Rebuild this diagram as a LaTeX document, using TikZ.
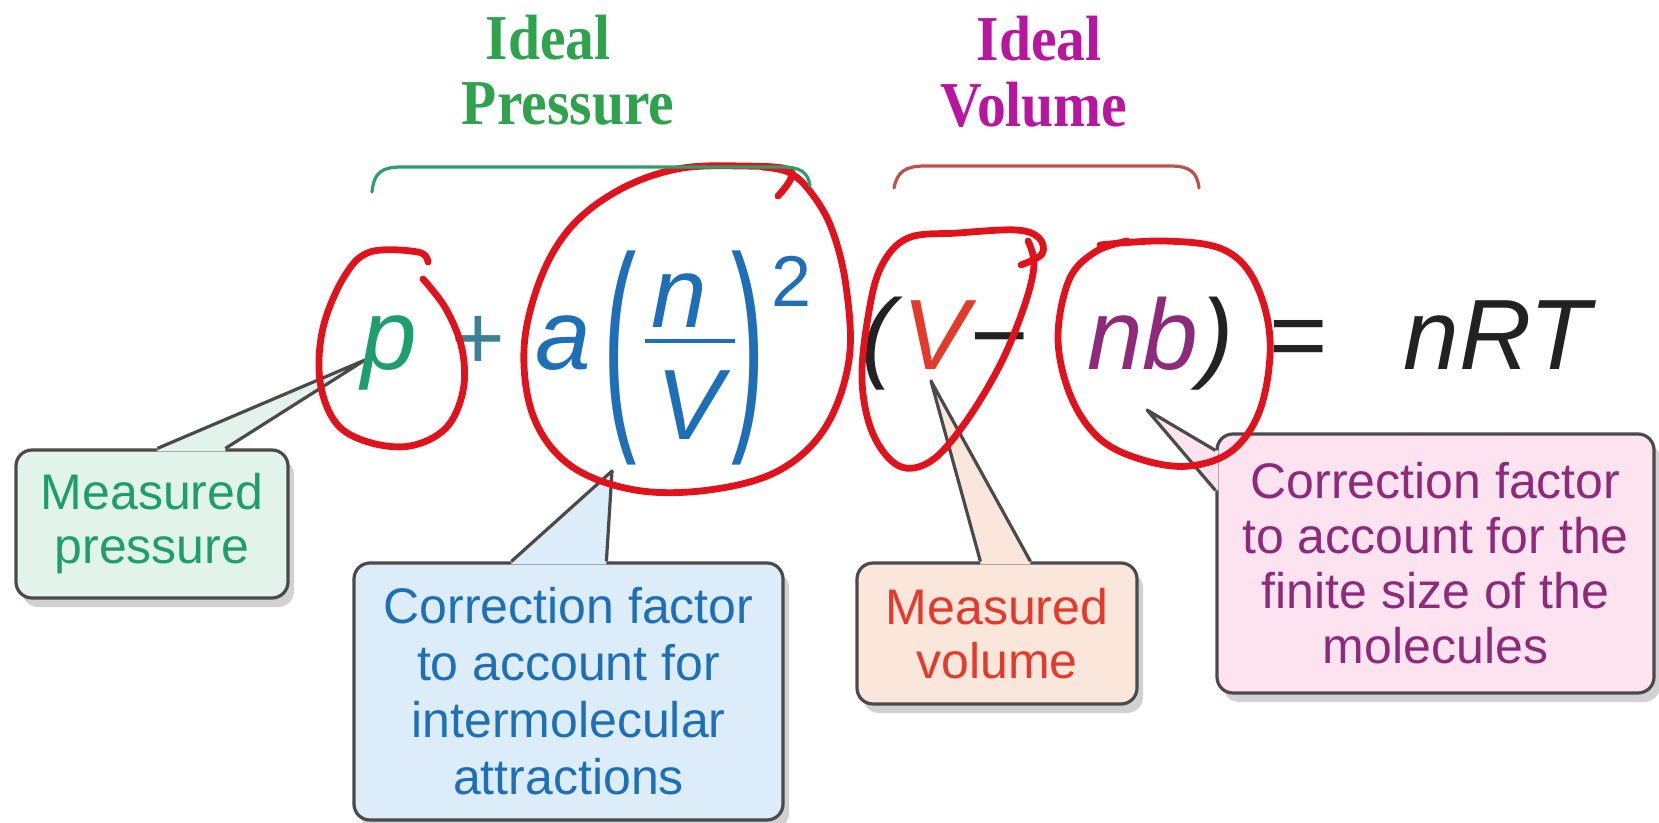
\documentclass[tikz,border=0pt]{standalone}
\usepackage{fontspec}
\setmainfont{Liberation Sans}
\newfontfamily\serifb{Liberation Serif}
\usetikzlibrary{calc}
\definecolor{cgreen}{HTML}{1E9E6E}
\definecolor{cblue}{HTML}{1F6FB6}
\definecolor{cred}{HTML}{E23B2E}
\definecolor{cpurp}{HTML}{8E2A7A}
\definecolor{ceq}{HTML}{222222}
\definecolor{cplus}{HTML}{3C8096}
\definecolor{ttlgreen}{HTML}{2FA24E}
\definecolor{ttlmag}{HTML}{B8169E}
\definecolor{circ}{HTML}{E0121C}
\definecolor{bgreen}{HTML}{E2F3EA}
\definecolor{bblue}{HTML}{DCEDF9}
\definecolor{bpeach}{HTML}{FBE6DC}
\definecolor{bpink}{HTML}{FCE3EF}
\definecolor{edge}{HTML}{4A4A4A}
\definecolor{arcg}{HTML}{2E9E6A}
\definecolor{arcr}{HTML}{C0504D}
\begin{document}
\begin{tikzpicture}[x=0.5pt,y=-0.5pt,
  eq/.style={inner sep=0pt, anchor=base, font=\fontsize{50}{60}\selectfont\itshape},
  ttl/.style={inner sep=0pt, anchor=base, font=\fontsize{32}{36}\selectfont\serifb\bfseries},
  callout/.style={draw=edge, line width=1.6pt, rounded corners=8pt, inner sep=0pt, align=center, font=\fontsize{25}{27}\selectfont},
  shade/.style={fill=black, opacity=0.18, rounded corners=8pt, inner sep=0pt},
  wedge/.style={draw=edge, line width=1.6pt, line join=round},
  ring/.style={draw=circ, line width=3.4pt, line cap=round, line join=round},
  bracearc/.style={line width=1.6pt, line cap=round}]
\useasboundingbox (0,0) rectangle (1659,823);

% ---------- shadows ----------
\node[shade, minimum width=136pt, minimum height=74pt] (mpS) at (158,533) {};
\node[shade, minimum width=214.5pt, minimum height=128.5pt] (caS) at (574.5,700.5) {};
\node[shade, minimum width=140pt, minimum height=70.5pt] (mvS) at (1003,642.5) {};
\node[shade, minimum width=218.5pt, minimum height=129.5pt] (cmS) at (1441.5,572.5) {};

% ---------- callout boxes ----------
\node[callout, fill=bgreen, text=cgreen, minimum width=136pt, minimum height=74pt] (mp) at (152,524) {Measured\\pressure};
\node[callout, fill=bblue, text=cblue, minimum width=214.5pt, minimum height=128.5pt, font=\fontsize{25}{28.5}\selectfont] (ca) at (568.5,691.5) {Correction factor\\to account for\\intermolecular\\attractions};
\node[callout, fill=bpeach, text=cred, minimum width=140pt, minimum height=70.5pt] (mv) at (997,633.5) {Measured\\volume};
\node[callout, fill=bpink, text=cpurp, minimum width=218.5pt, minimum height=129.5pt, font=\fontsize{25}{27.5}\selectfont] (cm) at (1435.5,563.5) {Correction factor\\to account for the\\finite size of the\\molecules};

% ---------- pointer tips and bases ----------
\coordinate (tp) at (365,360);
\coordinate (g1) at ($(mp.north west)+(143,0)$);
\coordinate (g2) at ($(mp.north west)+(211,0)$);
\coordinate (ta) at (612,471);
\coordinate (b1) at ($(ca.north west)+(159,0)$);
\coordinate (b2) at ($(ca.north west)+(254,0)$);
\coordinate (tv) at (931,381);
\coordinate (v1) at ($(mv.north west)+(125,0)$);
\coordinate (v2) at ($(mv.north west)+(175,0)$);
\coordinate (tn) at (1147,410);
\coordinate (n1) at ($(cm.north west)+(0,18)$);
\coordinate (n2) at ($(cm.north west)+(0,58)$);

\fill[bgreen] ($(g1)+(0,3)$) -- (g1) -- (tp) -- (g2) -- ($(g2)+(0,3)$) -- cycle;
\draw[wedge] (g1) -- (tp) -- (g2);
\fill[bblue] ($(b1)+(0,3)$) -- (b1) -- (ta) -- (b2) -- ($(b2)+(0,3)$) -- cycle;
\draw[wedge] (b1) -- (ta) -- (b2);
\fill[bpeach] ($(v1)+(0,3)$) -- (v1) -- (tv) -- (v2) -- ($(v2)+(0,3)$) -- cycle;
\draw[wedge] (v1) -- (tv) -- (v2);
\fill[bpink] ($(n1)+(3,0)$) -- (n1) -- (tn) -- (n2) -- ($(n2)+(3,0)$) -- cycle;
\draw[wedge] (n1) -- (tn) -- (n2);

% ---------- equation ----------
\node[eq, text=cgreen] (p) at (389,370) {p};
\node[eq, text=cplus, font=\fontsize{46}{60}\selectfont\upshape] (plus) at (478,370) {+};
\node[eq, text=cblue] (a) at (563,370) {a};
\node[eq, text=cblue, anchor=center, font=\fontsize{50}{60}\selectfont\upshape] (lp) at (620,358) {\scalebox{1}[2.3]{(}};
\node[eq, text=cblue] (fn) at (679,328) {n};
\draw[cblue, line width=2pt] (645,341) -- (735,341);
\node[eq, text=cblue] (fv) at (690,439) {V};
\node[eq, text=cblue, anchor=center, font=\fontsize{50}{60}\selectfont\upshape] (rp) at (748,358) {\scalebox{1}[2.3]{)}};
\node[eq, text=cblue, font=\fontsize{36}{40}\selectfont\upshape] (sq) at (792,307) {2};
\node[eq, text=ceq] (lp2) at (878,370) {(};
\node[eq, text=cred] (vv) at (936,370) {V};
\node[eq, text=ceq, font=\fontsize{50}{60}\selectfont\upshape] (minus) at (1000,370) {−};
\node[eq, text=cpurp] (nb) at (1143,370) {nb};
\node[eq, text=ceq] (rp2) at (1217,370) {)};
\node[eq, text=ceq, font=\fontsize{50}{60}\selectfont\upshape] (equal) at (1299,370) {=};
\node[eq, text=ceq] (nrt) at (1497,370) {nRT};

% ---------- hand-drawn red rings ----------
\draw[ring] plot[smooth, tension=0.6] coordinates {(428,262) (418,252) (370,252) (344,277) (323,328) (320,381) (336,423) (368,442) (410,446) (446,428) (463,391) (462,349) (446,309) (423,279)};
\draw[ring] plot[smooth, tension=0.6] coordinates {(778,196) (791,171) (741,166) (677,169) (619,190) (571,227) (540,280) (524,349) (534,418) (571,466) (635,490) (709,490) (778,471) (825,428) (849,360) (846,286) (831,227) (809,190) (788,172) (762,167)};
\draw[ring] plot[smooth, tension=0.6] coordinates {(1021,265) (1042,254) (1039,238) (1016,230) (958,233) (908,238) (881,267) (868,317) (862,381) (873,434) (899,466) (931,461) (965,423) (1000,365) (1024,307) (1034,265) (1028,241)};
\draw[ring] plot[smooth, tension=0.6] coordinates {(1100,245) (1164,241) (1222,249) (1254,280) (1270,339) (1261,407) (1233,450) (1190,466) (1143,460) (1100,439) (1071,397) (1058,339) (1069,280) (1095,252) (1127,241)};

% ---------- brace arcs ----------
\draw[bracearc, draw=arcg] (372,192) .. controls (374,172) and (382,167) .. (402,167) -- (782,167) .. controls (800,167) and (808,172) .. (810,186);
\draw[bracearc, draw=arcr] (894,188) .. controls (897,172) and (905,166) .. (925,166) -- (1170,166) .. controls (1190,166) and (1197,172) .. (1199,188);

% ---------- titles ----------
\node[ttl, text=ttlgreen] (t1a) at (548,60) {\scalebox{0.9}[1]{Ideal}};
\node[ttl, text=ttlgreen] (t1b) at (568,125) {\scalebox{0.9}[1]{Pressure}};
\node[ttl, text=ttlmag] (t2a) at (1039,61) {\scalebox{0.9}[1]{Ideal}};
\node[ttl, text=ttlmag] (t2b) at (1034,127) {\scalebox{0.9}[1]{Volume}};
\end{tikzpicture}
\end{document}
